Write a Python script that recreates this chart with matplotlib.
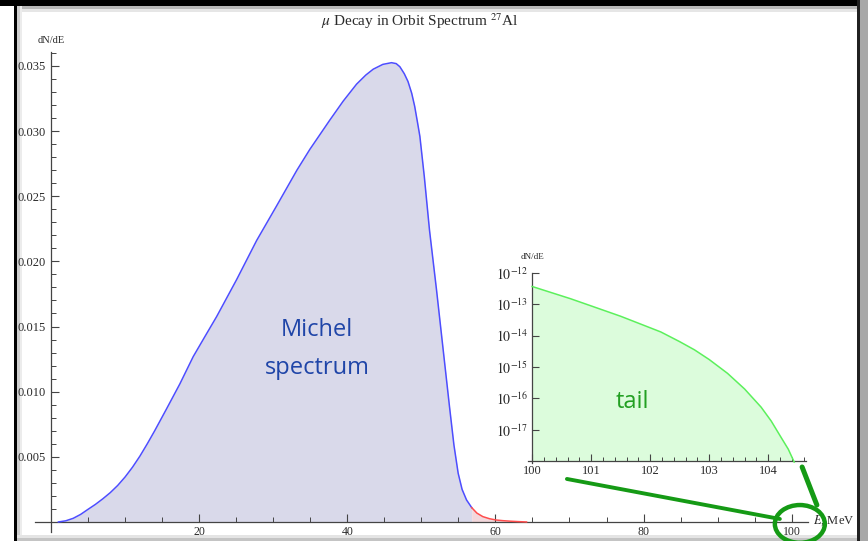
import numpy as np
import matplotlib
matplotlib.use("Agg")
import matplotlib.pyplot as plt
from matplotlib.patches import Rectangle, Ellipse, ConnectionPatch
from matplotlib.ticker import MultipleLocator, FixedLocator

# ---------------- data ----------------
# Michel spectrum (blue part), E in MeV, dN/dE
michel_E = [1.0, 2.0, 3.0, 4.0, 5.0, 6.0, 7.0, 8.0, 9.0, 10.0, 11.0, 12.0,
            13.0, 14.0, 15.6, 17.4, 19.2, 20.8, 22.36, 25.06, 27.76, 30.45,
            33.2, 34.95, 37.65, 39.45, 41.25, 42.5, 43.5, 44.8, 45.97, 46.6,
            47.1, 47.7, 48.2, 48.7, 49.1, 49.5, 49.8, 50.4, 51.1, 52.05, 52.9,
            53.8, 54.4, 54.97, 55.5, 56.1, 56.8]
michel_N = [0.0, 0.00009, 0.00028, 0.00058, 0.00097, 0.00135, 0.00178,
            0.00225, 0.00280, 0.00345, 0.00420, 0.00505, 0.00600, 0.00700,
            0.00868, 0.01060, 0.01269, 0.01425, 0.01576, 0.01860, 0.02160,
            0.02425, 0.02700, 0.02860, 0.03085, 0.03230, 0.03360, 0.03430,
            0.03475, 0.03512, 0.03525, 0.03518, 0.03494, 0.03440, 0.03380,
            0.03290, 0.03190, 0.03060, 0.02960, 0.02650, 0.02240, 0.01780,
            0.01345, 0.00885, 0.00590, 0.00374, 0.00250, 0.00169, 0.00110]
# high-energy part drawn in red
red_E = [56.8, 57.5, 58.3, 59.2, 60.1, 61.0, 62.0, 63.0, 64.2]
red_N = [0.00110, 0.00068, 0.00041, 0.00025, 0.00015, 0.00010, 0.00006,
         0.00003, 0.0]

# tail (inset), log10 of dN/dE
tail_E = [100.0, 100.65, 101.0, 101.5, 102.18, 102.5, 102.75, 103.0, 103.31,
          103.6, 103.88, 104.05, 104.22, 104.34, 104.44]
tail_log = [-12.43, -12.82, -13.05, -13.38, -13.88, -14.19, -14.45, -14.76,
            -15.20, -15.70, -16.28, -16.72, -17.25, -17.62, -18.03]

main_xticks = [20, 40, 60, 80, 100]
main_yticks = [0.005, 0.010, 0.015, 0.020, 0.025, 0.030, 0.035]
inset_xticks = [100, 101, 102, 103, 104]
inset_ydecades = [-17, -16, -15, -14, -13, -12]

# ---------------- style ----------------
plt.rcParams['mathtext.fontset'] = 'stix'
SERIF = 'Liberation Serif'
SANS = 'Open Sans'
AXC = '#444444'
TXC = '#2a2a2a'

W, H = 868, 541
fig = plt.figure(figsize=(W / 100, H / 100), dpi=100)
fig.patch.set_facecolor('white')

def fx(px):
    return px / W

def fy(py):
    return 1 - py / H

# main axes
L, R, T, B = 35, 808, 52, 532
ax = fig.add_axes([fx(L), fy(B), fx(R - L), (B - T) / H])
ax.set_facecolor('white')
ax.set_xlim(-2.16, 102.2)
ax.set_ylim(-0.00077, 0.03607)
for s in ['top', 'right']:
    ax.spines[s].set_visible(False)
ax.spines['left'].set_position(('data', 0))
ax.spines['bottom'].set_position(('data', 0))
for s in ['left', 'bottom']:
    ax.spines[s].set_color(AXC)
    ax.spines[s].set_linewidth(0.9)

ax.fill_between(michel_E, michel_N, 0, color='#d9d9ea', lw=0, zorder=1)
ax.fill_between(red_E, red_N, 0, color='#f3d8dc', lw=0, zorder=1)
ax.plot(michel_E, michel_N, color='#4d4dff', lw=1.1, zorder=3)
ax.plot(red_E, red_N, color='#ff4d4d', lw=1.1, zorder=3)

ax.xaxis.set_major_locator(FixedLocator(main_xticks))
ax.xaxis.set_minor_locator(MultipleLocator(5))
ax.yaxis.set_major_locator(FixedLocator(main_yticks))
ax.yaxis.set_minor_locator(MultipleLocator(0.001))
ax.tick_params(axis='both', which='major', direction='in', length=6,
               width=0.8, color=AXC, labelcolor=TXC)
ax.tick_params(axis='both', which='minor', direction='in', length=3.5,
               width=0.7, color=AXC)
ax.tick_params(axis='x', pad=3, labelsize=8.5)
ax.tick_params(axis='y', pad=4, labelsize=9)
ax.set_xticklabels([str(v) for v in main_xticks], fontfamily=SERIF)
ax.set_yticklabels(['%.3f' % v for v in main_yticks], fontfamily=SERIF)

ax.text(0, 1.015, 'dN/dE', transform=ax.get_xaxis_transform(),
        ha='center', va='bottom', fontsize=7.5, fontfamily=SERIF, color=TXC)
ax.text(fx(813), fy(521), r'$E$, MeV', transform=fig.transFigure,
        ha='left', va='center', fontsize=9, fontfamily=SERIF, color=TXC)

fig.text(fx(420), fy(21), r'$\mu$ Decay in Orbit Spectrum $^{27}$Al',
         ha='center', va='center', fontsize=11, fontfamily=SERIF, color=TXC)

ax.text(35.9, 0.01470, 'Michel', ha='center', va='center', fontsize=17,
        fontfamily=SANS, color='#1f45a8', zorder=4)
ax.text(35.9, 0.01178, 'spectrum', ha='center', va='center', fontsize=17,
        fontfamily=SANS, color='#1f45a8', zorder=4)

# inset axes
iL, iR, iT, iB = 528, 806, 273, 463
ins = fig.add_axes([fx(iL), fy(iB), fx(iR - iL), (iB - iT) / H])
ins.set_facecolor('none')
ins.set_yscale('log')
ins.set_xlim(99.93, 104.64)
ins.set_ylim(10 ** -18.06, 10 ** -12)
for s in ['top', 'right']:
    ins.spines[s].set_visible(False)
ins.spines['left'].set_position(('data', 100))
ins.spines['bottom'].set_position(('data', 1e-18))
for s in ['left', 'bottom']:
    ins.spines[s].set_color(AXC)
    ins.spines[s].set_linewidth(0.9)

tail_N = [10 ** v for v in tail_log]
ins.fill_between(tail_E, tail_N, 1e-18, color='#dcfcdc', lw=0, zorder=1)
ins.plot(tail_E, tail_N, color='#5cf05c', lw=1.1, zorder=3)

ins.xaxis.set_major_locator(FixedLocator(inset_xticks))
ins.xaxis.set_minor_locator(MultipleLocator(0.2))
ins.yaxis.set_major_locator(FixedLocator([10.0 ** d for d in inset_ydecades]))
ins.yaxis.set_minor_locator(FixedLocator([]))
ins.tick_params(axis='both', which='major', direction='in', length=5,
                width=0.8, color=AXC, labelcolor=TXC)
ins.tick_params(axis='both', which='minor', direction='in', length=3,
                width=0.7, color=AXC)
ins.tick_params(axis='x', pad=3, labelsize=9)
ins.tick_params(axis='y', pad=3, labelsize=10)
ins.set_xticklabels([str(v) for v in inset_xticks], fontfamily=SERIF)
ins.set_yticklabels([r'$10^{%d}$' % d for d in inset_ydecades])
ins.text(100, 1.065, 'dN/dE', transform=ins.get_xaxis_transform(),
         ha='center', va='bottom', fontsize=6.5, fontfamily=SERIF, color=TXC)
ins.text(101.70, 10 ** -16.13, 'tail', ha='center', va='center',
         fontsize=17, fontfamily=SANS, color='#22a022', zorder=4)

# green annotation (zoom marker)
GC = '#159a15'
ell = Ellipse((101.1, -0.00015), 6.75, 0.0029, fill=False, edgecolor=GC,
              lw=3.2, clip_on=False, zorder=6)
ax.add_patch(ell)
c1 = ConnectionPatch(xyA=(0.14, -0.084), coordsA=ins.transAxes,
                     xyB=(98.4, 0.00023), coordsB=ax.transData,
                     color=GC, lw=2.8, zorder=6)
fig.add_artist(c1)
c2 = ConnectionPatch(xyA=(0.986, -0.021), coordsA=ins.transAxes,
                     xyB=(103.4, 0.0013), coordsB=ax.transData,
                     color=GC, lw=3.6, zorder=6)
fig.add_artist(c2)

# screenshot frame (drawn beneath the axes)
def frame_rect(x0, y0, x1, y1, color):
    fig.add_artist(Rectangle((fx(x0), fy(y1)), fx(x1 - x0), (y1 - y0) / H,
                             transform=fig.transFigure, color=color, lw=0,
                             zorder=-1))

frame_rect(0, 0, W, 6, '#000000')
frame_rect(17, 6, 857, 9, '#b8b8b8')
frame_rect(17, 9, 857, 12, '#e6e6e6')
frame_rect(14, 0, 17, H, '#000000')
frame_rect(17, 6, 20, H, '#cfcfcf')
frame_rect(20, 6, 22, H, '#ececec')
frame_rect(857, 0, 860, H, '#202020')
frame_rect(860, 0, W, H, '#a8a8a8')
frame_rect(17, 538, 857, H, '#c4c4c4')
frame_rect(17, 535, 857, 538, '#e4e4e4')

fig.savefig('out.png', dpi=100, facecolor='white')
